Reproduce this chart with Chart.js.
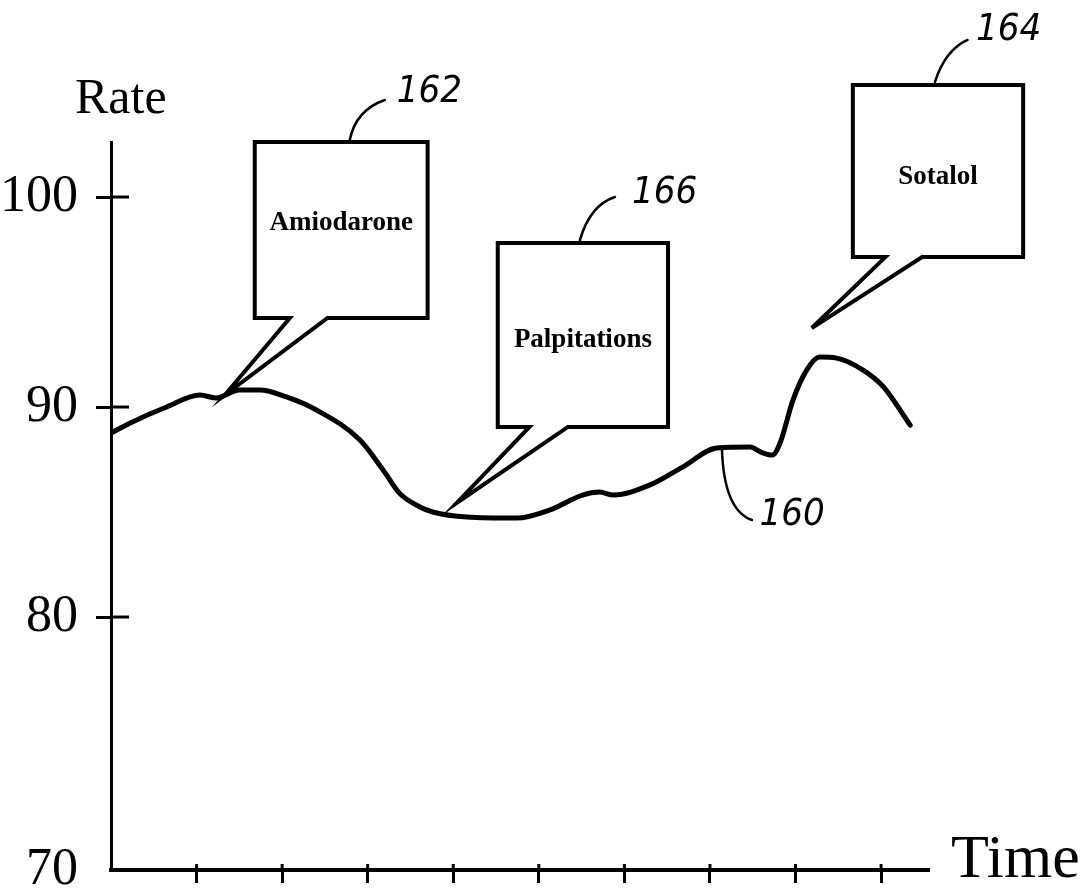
<!DOCTYPE html>
<html>
<head>
<meta charset="utf-8">
<script src="https://cdn.jsdelivr.net/npm/chart.js@4"></script>
<style>
  html, body { margin: 0; padding: 0; background: #ffffff; }
  #wrap { width: 1085px; height: 895px; }
</style>
</head>
<body>
<div id="wrap"><canvas id="c" width="1085" height="895"></canvas></div>
<script>
// ---- data ----
const timePoints = [0.0,0.25,0.65,1.04,1.23,1.50,1.74,2.05,2.40,2.91,3.18,3.37,3.61,3.76,4.16,4.74,5.13,5.51,5.71,5.87,6.30,6.68,7.08,7.47,7.59,7.73,7.82,7.97,8.13,8.28,8.48,8.79,9.03,9.34];
const heartRate = [88.76,89.29,90.0,90.57,90.43,90.81,90.81,90.48,89.86,88.43,87.0,85.90,85.24,85.0,84.76,84.71,85.10,85.81,85.95,85.81,86.29,87.14,88.05,88.10,87.86,87.71,88.29,90.33,91.76,92.38,92.33,91.76,90.95,89.14];
const yTickValues = [70, 80, 90, 100];
const xTickValues = [1, 2, 3, 4, 5, 6, 7, 8, 9];
const yAxisTitle = 'Rate';
const xAxisTitle = 'Time';

// callout events (data coordinates: time, rate)
const calloutTexts = ['Amiodarone', 'Palpitations', 'Sotalol'];
const calloutTips = [[1.33, 90.57], [4.04, 85.43], [8.19, 93.76]];
const calloutBoxes = [[1.68, 3.70, 102.62, 94.24], [4.52, 6.51, 97.81, 89.05], [8.67, 10.66, 105.33, 97.14]];
const calloutTails = [[2.09, 2.53], [4.89, 5.34], [9.05, 9.48]];
const calloutTextY = [98.76, 93.19, 100.95];

// reference numerals with leaders (data coordinates)
const refLabels = ['162', '166', '164', '160'];
const refLabelAt = [[3.72, 105.0], [6.47, 100.19], [10.49, 107.95], [7.96, 84.86]];
const refLeaders = [
  [[2.79, 102.71], [2.86, 104.14], [3.20, 104.62]],
  [[5.48, 97.95], [5.60, 99.62], [5.89, 100.0]],
  [[9.63, 105.48], [9.75, 107.0], [10.01, 107.48]],
  [[7.14, 88.05], [7.16, 85.10], [7.49, 84.62]]
];

// ---- a linear scale with a break (the schematic's 70 sits at the origin) ----
class BrokenLinearScale extends Chart.LinearScale {
  static id = 'brokenLinear';
  static defaults = Chart.LinearScale.defaults;
  _brk() {
    const o = this.options;
    return { b: (o.breakValue ?? 80), f: (o.breakFraction ?? 0.35) };
  }
  _decFor(v) {
    const { b, f } = this._brk();
    if (v <= b) return (v - this.min) / (b - this.min) * f;
    return f + (v - b) / (this.max - b) * (1 - f);
  }
  getPixelForValue(v) {
    if (v === null || v === undefined) return NaN;
    return this.getPixelForDecimal(this._decFor(v));
  }
  getValueForPixel(p) {
    const d = this.getDecimalForPixel(p);
    const { b, f } = this._brk();
    if (d <= f) return this.min + d / f * (b - this.min);
    return b + (d - f) / (1 - f) * (this.max - b);
  }
}
Chart.register(BrokenLinearScale);

const INK = '#000000';

const annotationPlugin = {
  id: 'patentAnnotations',
  afterDraw(chart) {
    const ctx = chart.ctx;
    const xs = chart.scales.x, ys = chart.scales.y;
    const X = v => xs.getPixelForValue(v);
    const Y = v => ys.getPixelForValue(v);
    const area = chart.chartArea;
    ctx.save();

    // inner halves of the crossing tick marks
    ctx.strokeStyle = INK;
    ctx.lineWidth = 3;
    ctx.lineCap = 'butt';
    ys.ticks.forEach(t => {
      if (t.value === ys.min) return;
      const py = Y(t.value);
      ctx.beginPath(); ctx.moveTo(area.left, py); ctx.lineTo(area.left + 18, py); ctx.stroke();
    });
    xs.ticks.forEach(t => {
      const px = X(t.value);
      ctx.beginPath(); ctx.moveTo(px, area.bottom); ctx.lineTo(px, area.bottom - 6); ctx.stroke();
    });

    // axis titles
    ctx.fillStyle = INK;
    ctx.textBaseline = 'alphabetic';
    ctx.textAlign = 'left';
    ctx.font = "50px 'Liberation Serif', 'Times New Roman', serif";
    ctx.fillText(yAxisTitle, 75, area.top - 29);
    ctx.font = "62px 'Liberation Serif', 'Times New Roman', serif";
    ctx.fillText(xAxisTitle, area.right + 22, area.bottom + 7);

    // callouts
    calloutTexts.forEach((txt, i) => {
      const [l, r, t, b] = calloutBoxes[i];
      const [t1, t2] = calloutTails[i];
      const [tx, ty] = calloutTips[i];
      const L = X(l), R = X(r), T = Y(t), B = Y(b);
      ctx.beginPath();
      ctx.moveTo(X(t1), B);
      ctx.lineTo(L, B);
      ctx.lineTo(L, T);
      ctx.lineTo(R, T);
      ctx.lineTo(R, B);
      ctx.lineTo(X(t2), B);
      ctx.lineTo(X(tx), Y(ty));
      ctx.closePath();
      ctx.fillStyle = '#ffffff';
      ctx.fill();
      ctx.lineWidth = 4;
      ctx.lineJoin = 'miter';
      ctx.strokeStyle = INK;
      ctx.stroke();
      ctx.fillStyle = INK;
      ctx.font = "bold 27px 'Liberation Serif', 'Times New Roman', serif";
      ctx.textAlign = 'center';
      ctx.textBaseline = 'middle';
      ctx.fillText(txt, (L + R) / 2, Y(calloutTextY[i]));
    });

    // handwritten reference numerals
    refLabels.forEach((lab, i) => {
      const [p0, p1, p2] = refLeaders[i];
      ctx.beginPath();
      ctx.moveTo(X(p0[0]), Y(p0[1]));
      ctx.quadraticCurveTo(X(p1[0]), Y(p1[1]), X(p2[0]), Y(p2[1]));
      ctx.lineWidth = 2.5;
      ctx.lineCap = 'round';
      ctx.strokeStyle = INK;
      ctx.stroke();
      ctx.fillStyle = INK;
      ctx.font = "italic 200 38px 'DejaVu Sans Condensed', 'DejaVu Sans', sans-serif";
      ctx.textAlign = 'center';
      ctx.textBaseline = 'middle';
      ctx.fillText(lab, X(refLabelAt[i][0]), Y(refLabelAt[i][1]));
    });
    ctx.restore();
  }
};

const points = timePoints.map((t, i) => ({ x: t, y: heartRate[i] }));

new Chart(document.getElementById('c'), {
  type: 'line',
  data: {
    datasets: [{
      label: 'Rate',
      data: points,
      borderColor: INK,
      borderWidth: 5,
      pointRadius: 0,
      fill: false,
      cubicInterpolationMode: 'monotone',
      borderCapStyle: 'round',
      borderJoinStyle: 'round'
    }]
  },
  options: {
    responsive: false,
    animation: false,
    events: [],
    layout: { padding: { top: 142, right: 156, left: 0, bottom: 0 } },
    plugins: { legend: { display: false }, tooltip: { enabled: false }, title: { display: false } },
    scales: {
      x: {
        type: 'linear',
        min: 0,
        max: 9.56,
        afterBuildTicks: s => { s.ticks = xTickValues.map(v => ({ value: v })); },
        afterFit: s => { s.height = 25; s.paddingLeft = 0; s.paddingRight = 0; },
        ticks: { callback: () => '', padding: 0 },
        grid: { drawOnChartArea: false, drawTicks: true, tickLength: 13, tickWidth: 3, tickColor: INK },
        border: { display: true, color: INK, width: 4 }
      },
      y: {
        type: 'brokenLinear',
        min: 70,
        max: 102.62,
        breakValue: 80,
        breakFraction: 0.3475,
        afterBuildTicks: s => { s.ticks = yTickValues.map(v => ({ value: v })); },
        afterFit: s => { s.width = 111; s.paddingTop = 0; s.paddingBottom = 0; },
        ticks: {
          color: INK,
          padding: 18,
          font: { family: "'Liberation Serif', 'Times New Roman', serif", size: 52 },
          callback: v => String(v)
        },
        grid: {
          drawOnChartArea: false,
          drawTicks: true,
          tickLength: 15,
          tickWidth: 3,
          tickColor: c => (c.tick && c.tick.value === 70) ? 'rgba(0,0,0,0)' : INK
        },
        border: { display: true, color: INK, width: 3 }
      }
    }
  },
  plugins: [annotationPlugin]
});
</script>
</body>
</html>
